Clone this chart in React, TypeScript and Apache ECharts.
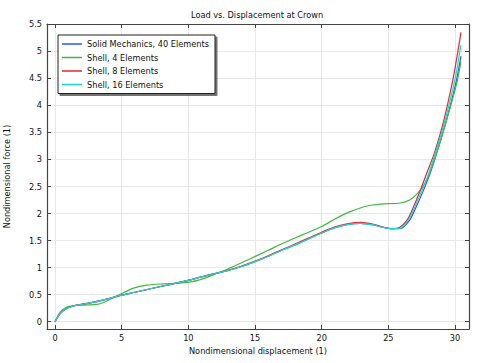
import React, { useEffect, useRef } from "react";
import * as echarts from "echarts";

const seriesNames = [
  "Solid Mechanics, 40 Elements",
  "Shell, 4 Elements",
  "Shell, 8 Elements",
  "Shell, 16 Elements",
];

const solid40: [number, number][] = [
  [0, 0], [0.4, 0.155], [0.9, 0.25], [1.4, 0.29], [1.9, 0.315], [3, 0.365], [4, 0.425],
  [5, 0.49], [6, 0.545], [7, 0.6], [8, 0.655], [9, 0.71], [10, 0.765], [11, 0.83],
  [12, 0.89], [13, 0.95], [14, 1.02], [15, 1.11], [16, 1.21], [17, 1.32], [18, 1.42],
  [19, 1.53], [20, 1.64], [21, 1.74], [22, 1.8], [22.9, 1.82], [23.9, 1.79], [24.6, 1.745],
  [25.3, 1.72], [25.9, 1.725], [26.6, 1.88], [27.1, 2.13], [27.6, 2.41], [28.1, 2.72],
  [28.6, 3.1], [29.1, 3.5], [29.6, 3.95], [30.1, 4.45], [30.45, 4.91],
];

const shell4: [number, number][] = [
  [0, 0], [0.4, 0.18], [0.9, 0.27], [1.4, 0.295], [1.9, 0.305], [2.5, 0.31], [3.15, 0.32],
  [3.6, 0.35], [4.1, 0.41], [5, 0.52], [5.9, 0.62], [6.9, 0.675], [8.1, 0.7], [9.4, 0.715],
  [10.3, 0.74], [11.4, 0.82], [12.2, 0.9], [13, 0.98], [14, 1.09], [14.6, 1.16], [16, 1.32],
  [17.1, 1.45], [18.5, 1.6], [20, 1.76], [21, 1.9], [22.1, 2.03], [23.4, 2.14], [24.4, 2.175],
  [25.9, 2.195], [26.6, 2.25], [27.1, 2.35], [27.6, 2.5], [28.1, 2.75], [28.6, 3.1],
  [29.1, 3.5], [29.6, 3.93], [30.1, 4.38], [30.45, 4.81],
];

const shell8: [number, number][] = [
  [0, 0], [0.4, 0.155], [0.9, 0.25], [1.4, 0.29], [1.9, 0.315], [3, 0.365], [4, 0.425],
  [5, 0.49], [6, 0.545], [7, 0.6], [8, 0.655], [9, 0.71], [10, 0.765], [11, 0.83],
  [12, 0.89], [13, 0.955], [14, 1.03], [15, 1.12], [16, 1.22], [17, 1.33], [18, 1.435],
  [19, 1.545], [20, 1.655], [21, 1.755], [22, 1.815], [22.9, 1.835], [23.9, 1.8], [24.6, 1.75],
  [25.2, 1.72], [25.7, 1.73], [26.4, 1.88], [26.9, 2.13], [27.4, 2.43], [27.9, 2.76],
  [28.4, 3.08], [28.9, 3.48], [29.4, 3.97], [29.9, 4.55], [30.45, 5.35],
];

const shell16: [number, number][] = [
  [0, 0], [0.4, 0.155], [0.9, 0.25], [1.4, 0.29], [1.9, 0.315], [3, 0.365], [4, 0.425],
  [5, 0.49], [6, 0.545], [7, 0.6], [8, 0.655], [9, 0.71], [10, 0.765], [11, 0.83],
  [12, 0.89], [13, 0.95], [14, 1.02], [15, 1.11], [16, 1.21], [17, 1.32], [18, 1.42],
  [19, 1.53], [20, 1.64], [21, 1.74], [22, 1.8], [22.9, 1.82], [23.9, 1.79], [24.6, 1.745],
  [25.2, 1.72], [25.8, 1.72], [26.5, 1.88], [27.0, 2.13], [27.5, 2.41], [28.0, 2.72],
  [28.5, 3.1], [29.0, 3.5], [29.5, 3.96], [30.0, 4.48], [30.45, 5.12],
];

const xTicks = [0, 5, 10, 15, 20, 25, 30];
const yTicks = [0, 0.5, 1, 1.5, 2, 2.5, 3, 3.5, 4, 4.5, 5, 5.5];

const colors = ["#2f55e6", "#3cbb3c", "#e6262e", "#1fd6d6"];
const FONT = "DejaVu Sans";
const FS = 8.2;

export default function App() {
  const ref = useRef<HTMLDivElement>(null);
  useEffect(() => {
    if (!ref.current) return;
    const chart = echarts.init(ref.current, null, { renderer: "svg" });
    const xMin = -0.6, xMax = 31.05, yMin = -0.135, yMax = 5.505;
    const axisLine = { show: true, onZero: false, lineStyle: { color: "#444", width: 1.2 } };
    const data = [solid40, shell4, shell8, shell16];
    chart.setOption({
      animation: false,
      backgroundColor: "#fff",
      textStyle: { fontFamily: FONT },
      title: {
        text: "Load vs. Displacement at Crown",
        left: 191,
        top: 10.5,
        padding: 0,
        textStyle: { fontFamily: FONT, fontSize: FS, fontWeight: "normal", color: "#111" },
      },
      grid: {
        left: 47, right: 12, top: 24, bottom: 34,
        containLabel: false,
        outerBoundsMode: "none",
      },
      legend: {
        orient: "vertical",
        left: 58,
        top: 35,
        padding: [3, 6, 3, 4],
        itemGap: 1.5,
        itemWidth: 20,
        itemHeight: 1.5,
        icon: "rect",
        backgroundColor: "#fff",
        borderColor: "#222",
        borderWidth: 1,
        shadowColor: "rgba(0,0,0,0.55)",
        shadowBlur: 1,
        shadowOffsetX: 2,
        shadowOffsetY: 2,
        textStyle: { fontFamily: FONT, fontSize: FS, lineHeight: 12, color: "#111" },
        data: seriesNames,
      },
      xAxis: [
        {
          type: "value",
          min: xMin,
          max: xMax,
          name: "Nondimensional displacement (1)",
          nameLocation: "middle",
          nameGap: 13.5,
          nameTextStyle: { fontFamily: FONT, fontSize: FS, color: "#111" },
          axisLine,
          axisTick: { inside: true, length: 4, customValues: xTicks, lineStyle: { color: "#444" } },
          axisLabel: { customValues: xTicks, margin: 5, fontFamily: FONT, fontSize: FS, color: "#111" },
          splitLine: { show: true, lineStyle: { color: "#e8e8e8", width: 1 } },
        },
        {
          type: "value",
          position: "top",
          min: xMin,
          max: xMax,
          axisLine,
          axisTick: { inside: true, length: 4, customValues: xTicks, lineStyle: { color: "#444" } },
          axisLabel: { show: false },
          splitLine: { show: false },
        },
      ],
      yAxis: [
        {
          type: "value",
          min: yMin,
          max: yMax,
          name: "Nondimensional force (1)",
          nameLocation: "middle",
          nameGap: 36,
          nameTextStyle: { fontFamily: FONT, fontSize: FS, color: "#111" },
          axisLine,
          axisTick: { inside: true, length: 4, customValues: yTicks, lineStyle: { color: "#444" } },
          axisLabel: { customValues: yTicks, margin: 5, fontFamily: FONT, fontSize: FS, color: "#111" },
          splitLine: { show: true, lineStyle: { color: "#e8e8e8", width: 1 } },
        },
        {
          type: "value",
          position: "right",
          min: yMin,
          max: yMax,
          axisLine,
          axisTick: { inside: true, length: 4, customValues: yTicks, lineStyle: { color: "#444" } },
          axisLabel: { show: false },
          splitLine: { show: false },
        },
      ],
      series: seriesNames.map((name, i) => ({
        name,
        type: "line",
        xAxisIndex: 0,
        yAxisIndex: 0,
        data: data[i],
        smooth: 0.3,
        symbol: "none",
        color: colors[i],
        lineStyle: { color: colors[i], width: 1.2 },
      })),
    });
    return () => chart.dispose();
  }, []);
  return (
    <div
      ref={ref}
      style={{ position: "fixed", left: 0, top: 0, width: 481, height: 363 }}
    />
  );
}
